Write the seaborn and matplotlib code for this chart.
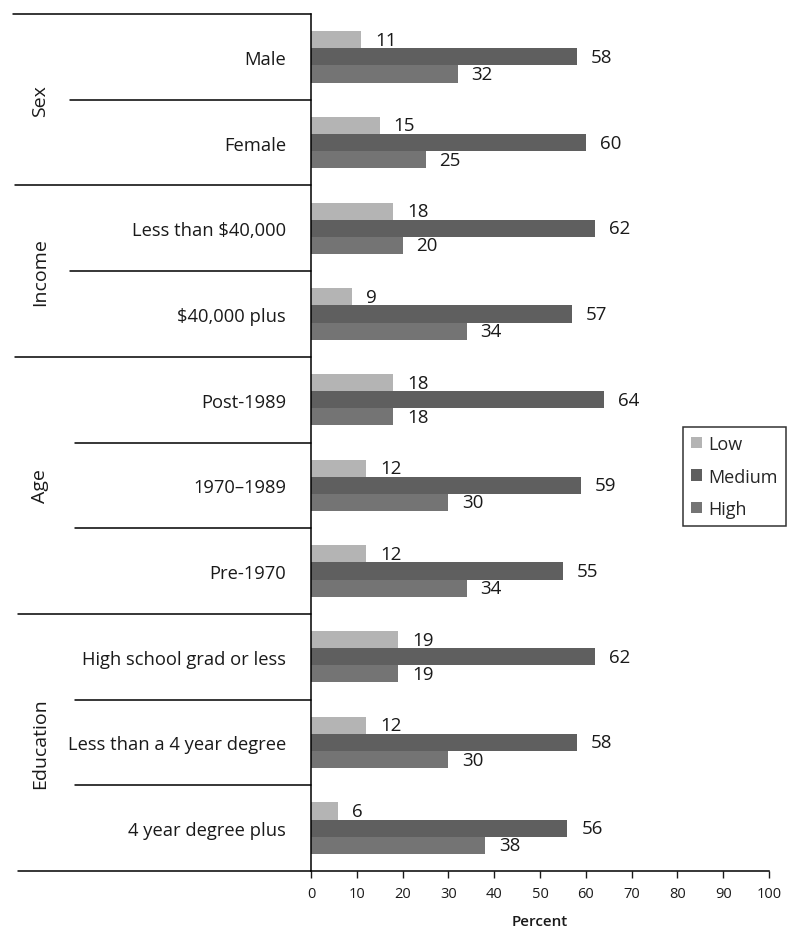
import numpy as np
import pandas as pd
import matplotlib
matplotlib.use("Agg")
import matplotlib.pyplot as plt
import matplotlib.transforms as mtransforms
from matplotlib.lines import Line2D
import seaborn as sns

categories = ["Male", "Female", "Less than $40,000", "$40,000 plus", "Post-1989",
              "1970\u20131989", "Pre-1970", "High school grad or less",
              "Less than a 4 year degree", "4 year degree plus"]
low = [11, 15, 18, 9, 18, 12, 12, 19, 12, 6]
medium = [58, 60, 62, 57, 64, 59, 55, 62, 58, 56]
high = [32, 25, 20, 34, 18, 30, 34, 19, 30, 38]
levels = ["Low", "Medium", "High"]
groups = ["Sex", "Income", "Age", "Education"]
group_members = [[0, 1], [2, 3], [4, 5, 6], [7, 8, 9]]

df = pd.DataFrame({
    "category": categories * 3,
    "level": ["Low"] * 10 + ["Medium"] * 10 + ["High"] * 10,
    "value": low + medium + high,
})

sns.set_style("white")
plt.rcParams["font.family"] = ["Open Sans", "DejaVu Sans"]
txt = "#1a1a1a"

W, H = 789, 928
fig = plt.figure(figsize=(W / 100, H / 100), dpi=100)
ax = fig.add_axes([311 / W, 1 - 872 / H, (769 - 311) / W, (872 - 15) / H])

palette = {"Low": "#b4b4b4", "Medium": "#5f5f5f", "High": "#747474"}
sns.barplot(data=df, x="value", y="category", hue="level", hue_order=levels,
            order=categories, palette=palette, orient="h", width=0.6,
            saturation=1, linewidth=0, edgecolor="none", ax=ax)

for cont in ax.containers:
    ax.bar_label(cont, padding=10, fontsize=13.5, color=txt)

ax.set_xlim(0, 100)
ax.set_ylim(9.5, -0.5)
ax.set_xticks(np.arange(0, 101, 10))
ax.tick_params(axis="x", labelsize=10.5, length=5, width=1, colors=txt, direction="out",
               bottom=True, pad=6)
ax.tick_params(axis="y", labelsize=13.2, length=0, pad=18, colors=txt)
ax.set_ylabel("")
ax.set_xlabel("Percent", fontsize=11, fontweight="semibold", color=txt, labelpad=9)
for s in ["top", "right"]:
    ax.spines[s].set_visible(False)
for s in ["left", "bottom"]:
    ax.spines[s].set_color("black")
    ax.spines[s].set_linewidth(1.1)

# legend
handles, labels = ax.get_legend_handles_labels()
ax.legend(handles, labels, loc="upper right", bbox_to_anchor=(786 / W, 1 - 428 / H),
          bbox_transform=fig.transFigure, frameon=True, fancybox=False,
          edgecolor="black", fontsize=13, handlelength=0.6, handleheight=0.6,
          handletextpad=0.35, labelspacing=0.8, borderpad=0.45, borderaxespad=0)
ax.get_legend().get_frame().set_linewidth(1.1)

# separator lines of the label table
blend = mtransforms.blended_transform_factory(fig.transFigure, ax.transData)
starts = {-0.5: 13, 0.5: 70, 1.5: 15, 2.5: 70, 3.5: 15, 4.5: 75, 5.5: 75,
          6.5: 18, 7.5: 75, 8.5: 75, 9.5: 18}
for y, x0 in starts.items():
    fig.add_artist(Line2D([x0 / W, 311 / W], [y, y], transform=blend,
                          color="black", lw=1.1))

# group labels
for g, members in zip(groups, group_members):
    yc = np.mean(members)
    ax.text(40 / W, yc, g, transform=blend, rotation=90, ha="center", va="center",
            fontsize=14, color=txt, clip_on=False)

fig.savefig("out.png", dpi=100)
